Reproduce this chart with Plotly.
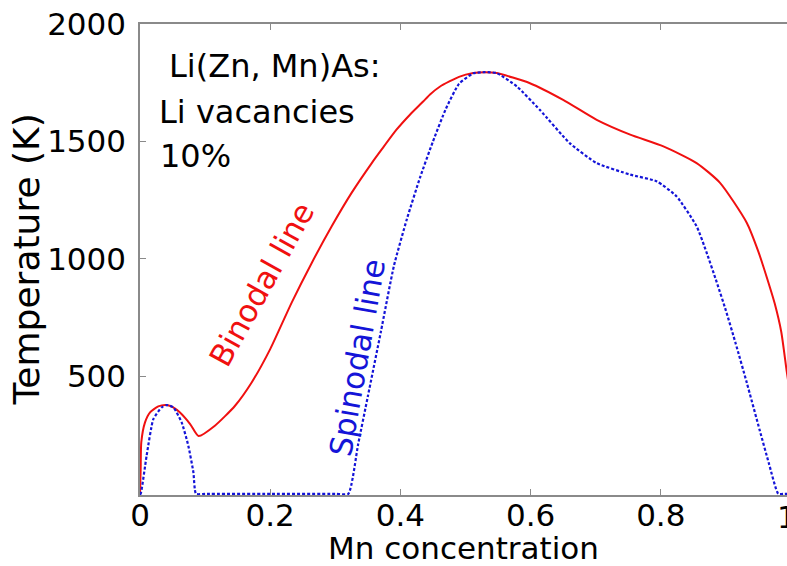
import plotly.graph_objects as go

# Binodal line: Mn concentration vs temperature (K)
binodal_x = [0.0, 0.001, 0.002, 0.0077, 0.0154, 0.028, 0.041, 0.051, 0.061, 0.077, 0.09,
             0.115, 0.146, 0.1715, 0.2, 0.233, 0.264, 0.2945, 0.325, 0.356, 0.371,
             0.394, 0.415, 0.435, 0.4455, 0.461, 0.49, 0.512, 0.53, 0.548, 0.599, 0.65,
             0.7015, 0.753, 0.804, 0.855, 0.891, 0.932, 0.95, 0.963, 0.975, 0.985,
             0.9935, 1.0]
binodal_T = [0, 100, 220, 304, 347, 372, 378, 368, 347, 297, 246,
             290, 375, 474, 616, 814, 984, 1139, 1281, 1408, 1465,
             1550, 1615, 1670, 1700, 1734, 1775, 1791, 1795, 1791, 1748, 1677,
             1592, 1529, 1479, 1408, 1324, 1154, 1030, 920, 810, 690,
             520, 400]

# Spinodal line
spinodal_x = [0.0, 0.001, 0.0102, 0.0205, 0.0333, 0.041, 0.0512, 0.064, 0.0742, 0.082, 0.086,
              0.1, 0.2, 0.3, 0.32, 0.335, 0.35, 0.37, 0.39, 0.41, 0.43, 0.45, 0.47, 0.49,
              0.512, 0.53, 0.548, 0.579, 0.614, 0.66, 0.7015, 0.753, 0.794, 0.824, 0.855,
              0.87, 0.886, 0.9, 0.915, 0.932, 0.952, 0.966, 0.9805, 0.99, 1.0]
spinodal_T = [0, 0, 163, 318, 368, 378, 368, 304, 205, 92, 0,
              0, 0, 0, 0, 210, 415, 690, 970, 1170, 1345, 1500, 1640, 1745,
              1790, 1795, 1791, 1734, 1635, 1493, 1408, 1359, 1330, 1267, 1139,
              1030, 900, 780, 640, 474, 270, 130, 0, 0, 0]

x_ticks = [0, 0.2, 0.4, 0.6, 0.8]
x_ticktext = ["0", "0.2", "0.4", "0.6", "0.8"]
y_ticks = [500, 1000, 1500, 2000]
y_ticktext = ["500", "1000", "1500", "2000"]

FONT = "DejaVu Sans"
AXIS_GREY = "#8a8a8a"
RED = "#f01010"
BLUE = "#1414d8"

fig = go.Figure()
fig.add_trace(go.Scatter(x=binodal_x, y=binodal_T, mode="lines",
                         line=dict(color=RED, width=2, shape="spline", smoothing=0.6),
                         showlegend=False))
fig.add_trace(go.Scatter(x=spinodal_x, y=spinodal_T, mode="lines",
                         line=dict(color=BLUE, width=2.2, dash="3px,2px",
                                   shape="spline", smoothing=0.5),
                         showlegend=False))

# Header text in the upper-left corner
header = [("Li(Zn, Mn)As:", 0.0415, 1822), ("Li vacancies", 0.026, 1626), ("10%", 0.027, 1437)]
for txt, hx, hy in header:
    fig.add_annotation(x=hx, y=hy, xref="x", yref="y", text=txt, showarrow=False,
                       xanchor="left", yanchor="middle",
                       font=dict(family=FONT, size=32, color="black"))

# Curve labels, rotated along the lines
fig.add_annotation(x=0.1874, y=892, xref="x", yref="y", text="Binodal line",
                   showarrow=False, textangle=-61,
                   font=dict(family=FONT, size=31, color=RED))
fig.add_annotation(x=0.333, y=580, xref="x", yref="y", text="Spinodal line",
                   showarrow=False, textangle=-80,
                   font=dict(family=FONT, size=31, color=BLUE))

# Tick label for x = 1, on the right edge of the axes
fig.add_annotation(x=651 / 647, y=0, xref="paper", yref="paper", text="1",
                   showarrow=False, xanchor="center", yanchor="top",
                   xshift=-4, yshift=-2,
                   font=dict(family=FONT, size=31, color="black"))

# Y axis title, placed in the left margin
fig.add_annotation(x=(26 - 140) / 647, y=0.5, xref="paper", yref="paper",
                   text="Temperature (K)", showarrow=False, textangle=-90,
                   xanchor="center", yanchor="middle",
                   font=dict(family=FONT, size=36, color="black"))

fig.update_layout(
    width=787, height=566,
    margin=dict(l=140, r=0, t=24, b=71, autoexpand=False),
    paper_bgcolor="white", plot_bgcolor="white",
    font=dict(family=FONT, color="black"),
    xaxis=dict(range=[0, 647 / 651], tickvals=x_ticks, ticktext=x_ticktext,
               automargin=False,
               showgrid=False, zeroline=False, layer="below traces",
               showline=True, linecolor=AXIS_GREY, linewidth=1.5, mirror="ticks",
               ticks="inside", ticklen=6, tickcolor=AXIS_GREY, tickwidth=1,
               tickfont=dict(family=FONT, size=31, color="black"),
               ticklabelstandoff=-8,
               title=dict(text="Mn concentration", standoff=17,
                          font=dict(family=FONT, size=31, color="black"))),
    yaxis=dict(range=[-5, 2000], tickvals=y_ticks, ticktext=y_ticktext,
               automargin=False,
               showgrid=False, zeroline=False, layer="below traces",
               showline=True, linecolor=AXIS_GREY, linewidth=1.5,
               ticks="inside", ticklen=6, tickcolor=AXIS_GREY, tickwidth=1,
               tickfont=dict(family=FONT, size=31, color="black"),
               ticklabelstandoff=6),
)

fig.write_html("out.html")
